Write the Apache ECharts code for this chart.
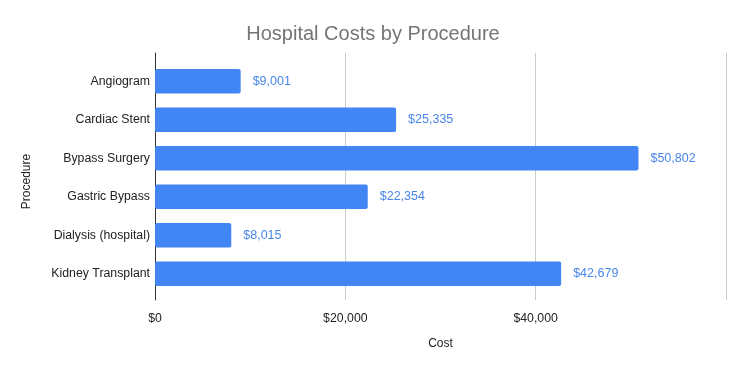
<!DOCTYPE html>
<html><head><meta charset="utf-8">
<script src="https://cdn.jsdelivr.net/npm/echarts@6/dist/echarts.min.js"></script>
<style>html,body{margin:0;padding:0;background:#fff}#c{width:746px;height:371px}</style>
</head><body><div id="c"></div>
<script>
const categories = ["Angiogram", "Cardiac Stent", "Bypass Surgery", "Gastric Bypass", "Dialysis (hospital)", "Kidney Transplant"];
const costs = [9001, 25335, 50802, 22354, 8015, 42679];
const xTicks = [0, 20000, 40000, 60000];

const font = "Arial, 'Liberation Sans', sans-serif";
const fmt = v => "$" + v.toLocaleString("en-US");
const chart = echarts.init(document.getElementById("c"));
chart.setOption({
  animation: false,
  title: { text: "Hospital Costs by Procedure", left: "center", top: 19,
    textStyle: { fontFamily: font, fontSize: 20, fontWeight: "normal", color: "#757575" } },
  grid: [
    { left: 155, right: 20, top: 53, bottom: 71 },
    { left: 155, right: 20, top: 62, bottom: 78 }
  ],
  xAxis: [
    { type: "value", gridIndex: 0, min: xTicks[0], max: xTicks[xTicks.length - 1], interval: 20000,
      name: "Cost", nameLocation: "middle", nameGap: 38,
      nameTextStyle: { fontFamily: font, fontSize: 12, color: "#222" },
      axisLine: { show: false }, axisTick: { show: false },
      splitLine: { lineStyle: { color: "#cccccc" } },
      axisLabel: { fontFamily: font, fontSize: 12.3, color: "#222", margin: 13,
        formatter: v => v === 60000 ? "" : fmt(v) } },
    { type: "value", gridIndex: 1, min: xTicks[0], max: xTicks[xTicks.length - 1],
      show: false, splitLine: { show: false } }
  ],
  yAxis: [
    { type: "value", gridIndex: 0, min: 0, max: 1, axisLabel: { show: false },
      axisTick: { show: false }, splitLine: { show: false },
      axisLine: { show: true, lineStyle: { color: "#333", width: 1 } },
      name: "Procedure", nameLocation: "middle", nameGap: 122, nameRotate: 90,
      nameTextStyle: { fontFamily: font, fontSize: 12, color: "#222", padding: [0, 10, 0, 0] } },
    { type: "category", gridIndex: 1, data: categories, inverse: true,
      axisLine: { show: false }, axisTick: { show: false },
      axisLabel: { fontFamily: font, fontSize: 12.3, color: "#222", margin: 5 } }
  ],
  series: [{
    type: "bar", xAxisIndex: 1, yAxisIndex: 1, data: costs, barWidth: "63%",
    itemStyle: { color: "#4285f4", borderRadius: 2 },
    label: { show: true, position: "right", distance: 12, fontFamily: font, fontSize: 12.5,
      color: "#4a86e8", formatter: p => fmt(p.value) }
  }]
});
</script></body></html>
